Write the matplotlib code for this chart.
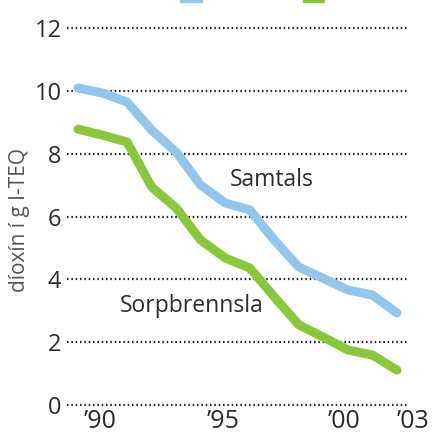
import numpy as np
import matplotlib
matplotlib.use('Agg')
import matplotlib.pyplot as plt
from matplotlib.patches import Rectangle

# values
years = list(range(1990, 2004))
samtals = [10.09, 9.93, 9.64, 8.75, 8.05, 7.0, 6.43, 6.21, 5.25, 4.39, 4.03, 3.66, 3.50, 2.93]
sorpbrennsla = [8.78, 8.59, 8.37, 6.94, 6.27, 5.25, 4.68, 4.36, 3.44, 2.55, 2.16, 1.75, 1.59, 1.11]
y_ticks = [0, 2, 4, 6, 8, 10, 12]
x_tick_labels = ["\u201990", "\u201995", "\u201900", "\u201903"]
x_tick_pos = [1990.9, 1995.9, 2000.85, 2003.65]

blue = '#93C6EA'
green = '#8CC63F'
txt = '#2b2b2b'

plt.rcParams['font.family'] = ['Open Sans', 'DejaVu Sans']

fig = plt.figure(figsize=(4.37, 4.37), dpi=100)
ax = fig.add_axes([67/437, 32/437, 370/437, 377/437])
ax.set_xlim(1989.55, 2004.63)
ax.set_ylim(0, 12)

# dotted gridlines
ax.hlines(y_ticks, 1989.55, 2003.45, colors='#222222', linestyles=(0, (0.7, 1.25)),
          linewidth=1.6, clip_on=False, zorder=1)

ax.plot(years, samtals, color=blue, lw=6.5, solid_capstyle='round',
        solid_joinstyle='round', zorder=3)
ax.plot(years, sorpbrennsla, color=green, lw=6.5, solid_capstyle='round',
        solid_joinstyle='round', zorder=3)

ax.text(1997.9, 7.16, 'Samtals', fontsize=16.5, color=txt, ha='center', va='center')
ax.text(1994.65, 3.15, 'Sorpbrennsla', fontsize=16.5, color=txt, ha='center', va='center')

ax.set_yticks(y_ticks)
ax.set_yticklabels([str(v) for v in y_ticks], fontsize=17, color=txt)
ax.set_xticks(x_tick_pos)
ax.set_xticklabels(x_tick_labels, fontsize=18, color=txt)
ax.tick_params(axis='y', length=0, pad=4)
ax.tick_params(axis='x', length=0, pad=3)
for s in ax.spines.values():
    s.set_visible(False)
ax.patch.set_visible(False)

fig.text(20/437, 1 - 220/437, 'díoxín í g I-TEQ', rotation=90, fontsize=15,
         color='#555555', ha='center', va='center')

# legend swatches cut off at the top edge
fig.patches.append(Rectangle((180/437, 1 - 2/437), 22/437, 2/437, transform=fig.transFigure,
                             color=blue, zorder=5))
fig.patches.append(Rectangle((303/437, 1 - 2/437), 21/437, 2/437, transform=fig.transFigure,
                             color=green, zorder=5))

fig.savefig('out.png', dpi=100)
